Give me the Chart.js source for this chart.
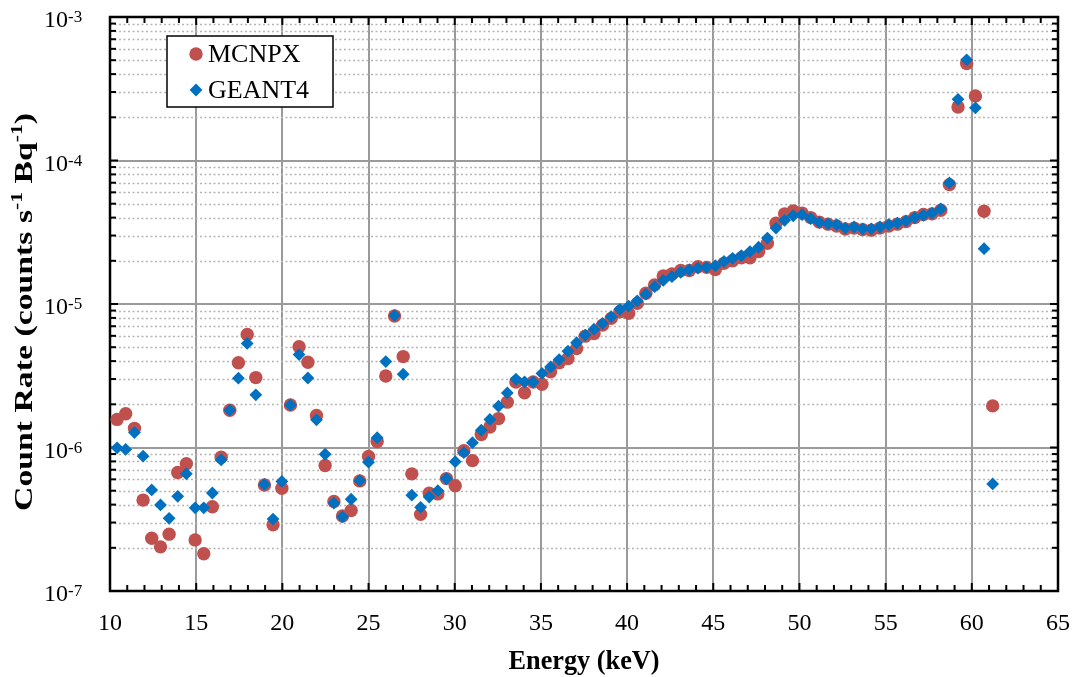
<!DOCTYPE html>
<html>
<head>
<meta charset="utf-8">
<title>Count rate vs energy</title>
<script src="https://cdn.jsdelivr.net/npm/chart.js@4.4.0/dist/chart.umd.min.js"></script>
<style>
  body { margin: 0; background: #fff; }
  canvas { display: block; }
</style>
</head>
<body>
<canvas id="chart" width="1075" height="677"></canvas>
<script>
// Energy of each channel (keV)
const energies = [
  10.41, 10.91, 11.42, 11.92, 12.42, 12.93, 13.43, 13.93, 14.43, 14.94,
  15.44, 15.94, 16.45, 16.95, 17.45, 17.96, 18.46, 18.96, 19.46, 19.97,
  20.47, 20.97, 21.48, 21.98, 22.48, 22.99, 23.49, 23.99, 24.49, 25.00,
  25.50, 26.00, 26.51, 27.01, 27.51, 28.02, 28.52, 29.02, 29.52, 30.03,
  30.53, 31.03, 31.54, 32.04, 32.54, 33.05, 33.55, 34.05, 34.55, 35.06,
  35.56, 36.06, 36.57, 37.07, 37.57, 38.08, 38.58, 39.08, 39.58, 40.09,
  40.59, 41.09, 41.60, 42.10, 42.60, 43.11, 43.61, 44.11, 44.61, 45.12,
  45.62, 46.12, 46.63, 47.13, 47.63, 48.14, 48.64, 49.14, 49.64, 50.15,
  50.65, 51.15, 51.66, 52.16, 52.66, 53.17, 53.67, 54.17, 54.67, 55.18,
  55.68, 56.18, 56.69, 57.19, 57.69, 58.20, 58.70, 59.20, 59.70, 60.21,
  60.71, 61.21
];

// Count rate (counts s-1 Bq-1)
const mcnpx = [
  1.57e-6, 1.72e-6, 1.36e-6, 4.3e-7, 2.33e-7, 2.03e-7, 2.49e-7, 6.7e-7, 7.7e-7, 2.27e-7,
  1.82e-7, 3.86e-7, 8.55e-7, 1.82e-6, 3.9e-6, 6.14e-6, 3.07e-6, 5.48e-7, 2.89e-7, 5.2e-7,
  1.98e-6, 5.04e-6, 3.93e-6, 1.67e-6, 7.5e-7, 4.2e-7, 3.33e-7, 3.64e-7, 5.85e-7, 8.65e-7,
  1.1e-6, 3.15e-6, 8.24e-6, 4.3e-6, 6.55e-7, 3.42e-7, 4.8e-7, 4.75e-7, 6.07e-7, 5.42e-7,
  9.5e-7, 8.1e-7, 1.23e-6, 1.39e-6, 1.59e-6, 2.07e-6, 2.86e-6, 2.41e-6, 2.86e-6, 2.76e-6,
  3.37e-6, 3.89e-6, 4.17e-6, 4.9e-6, 5.97e-6, 6.23e-6, 7.13e-6, 7.94e-6, 8.84e-6, 8.61e-6,
  1.01e-5, 1.19e-5, 1.36e-5, 1.57e-5, 1.62e-5, 1.71e-5, 1.71e-5, 1.82e-5, 1.8e-5, 1.74e-5,
  1.92e-5, 2.0e-5, 2.1e-5, 2.1e-5, 2.32e-5, 2.65e-5, 3.65e-5, 4.25e-5, 4.45e-5, 4.3e-5,
  4.0e-5, 3.72e-5, 3.6e-5, 3.5e-5, 3.33e-5, 3.38e-5, 3.3e-5, 3.27e-5, 3.38e-5, 3.5e-5,
  3.6e-5, 3.75e-5, 4.0e-5, 4.2e-5, 4.25e-5, 4.5e-5, 6.79e-5, 2.36e-4, 4.74e-4, 2.82e-4,
  4.43e-5, 1.95e-6
];

const geant4 = [
  9.95e-7, 9.7e-7, 1.27e-6, 8.7e-7, 5.06e-7, 3.98e-7, 3.21e-7, 4.57e-7, 6.55e-7, 3.8e-7,
  3.8e-7, 4.82e-7, 8.2e-7, 1.82e-6, 3.04e-6, 5.31e-6, 2.33e-6, 5.53e-7, 3.17e-7, 5.8e-7,
  1.98e-6, 4.44e-6, 3.05e-6, 1.56e-6, 8.97e-7, 4.1e-7, 3.29e-7, 4.36e-7, 5.87e-7, 7.9e-7,
  1.17e-6, 3.97e-6, 8.33e-6, 3.24e-6, 4.65e-7, 3.83e-7, 4.52e-7, 5.0e-7, 6.07e-7, 7.97e-7,
  9.2e-7, 1.08e-6, 1.32e-6, 1.57e-6, 1.94e-6, 2.4e-6, 2.99e-6, 2.86e-6, 2.86e-6, 3.28e-6,
  3.64e-6, 4.1e-6, 4.69e-6, 5.37e-6, 6.07e-6, 6.68e-6, 7.32e-6, 8.15e-6, 9.18e-6, 9.68e-6,
  1.05e-5, 1.17e-5, 1.32e-5, 1.46e-5, 1.55e-5, 1.66e-5, 1.73e-5, 1.78e-5, 1.8e-5, 1.85e-5,
  1.98e-5, 2.08e-5, 2.17e-5, 2.32e-5, 2.49e-5, 2.88e-5, 3.38e-5, 3.83e-5, 4.12e-5, 4.19e-5,
  3.93e-5, 3.7e-5, 3.62e-5, 3.57e-5, 3.38e-5, 3.44e-5, 3.34e-5, 3.34e-5, 3.44e-5, 3.57e-5,
  3.66e-5, 3.8e-5, 4.0e-5, 4.15e-5, 4.3e-5, 4.6e-5, 6.98e-5, 2.67e-4, 5.03e-4, 2.33e-4,
  2.43e-5, 5.57e-7
];

const yDecades = [1e-7, 1e-6, 1e-5, 1e-4, 1e-3];
const yExponents = ['-7', '-6', '-5', '-4', '-3'];
const xMin = 10;
const xMax = 65;

const serif = "'Liberation Serif', 'Times New Roman', serif";
const red = '#C0504D';
const blue = '#0070C0';
const gridGray = '#9a9a9a';

function toPoints(ys) {
  return energies.map((e, i) => ({ x: e, y: ys[i] }));
}

function strokeLine(ctx, x1, y1, x2, y2) {
  ctx.beginPath();
  ctx.moveTo(x1, y1);
  ctx.lineTo(x2, y2);
  ctx.stroke();
}

function drawMarker(ctx, style, r, x, y) {
  ctx.beginPath();
  if (style === 'rectRot') {
    ctx.moveTo(x - r, y);
    ctx.lineTo(x, y - r);
    ctx.lineTo(x + r, y);
    ctx.lineTo(x, y + r);
    ctx.closePath();
  } else {
    ctx.arc(x, y, r, 0, Math.PI * 2);
  }
  ctx.fill();
}

// text made of pieces, some raised as superscripts
function drawPieces(ctx, pieces, x, y, scaleX) {
  let total = 0;
  pieces.forEach(p => {
    ctx.font = p.font;
    p.w = ctx.measureText(p.text).width;
    total += p.w;
  });
  ctx.save();
  ctx.translate(x, y);
  ctx.scale(scaleX ? scaleX / total : 1, 1);
  let cx = -total / 2;
  pieces.forEach(p => {
    ctx.font = p.font;
    ctx.fillText(p.text, cx, p.rise || 0);
    cx += p.w;
  });
  ctx.restore();
}

// minor grid, frame, inside ticks, custom labels and legend
const decor = {
  id: 'decor',
  beforeDatasetsDraw(chart) {
    const { ctx, chartArea: a, scales: { x, y } } = chart;
    ctx.save();
    ctx.strokeStyle = '#b5b5b5';
    ctx.lineWidth = 1.5;
    ctx.setLineDash([2, 2.5]);
    yDecades.slice(0, -1).forEach(d => {
      for (let m = 2; m <= 9; m++) {
        const py = Math.round(y.getPixelForValue(d * m)) + 0.5;
        strokeLine(ctx, a.left, py, a.right, py);
      }
    });
    ctx.setLineDash([]);

    ctx.strokeStyle = '#000';
    ctx.lineWidth = 2;
    for (let v = xMin; v <= xMax; v++) {
      const px = x.getPixelForValue(v);
      const len = v % 5 === 0 ? 8 : 6;
      strokeLine(ctx, px, a.bottom, px, a.bottom - len);
      strokeLine(ctx, px, a.top, px, a.top + len);
    }
    yDecades.forEach((d, i) => {
      for (let m = 1; m <= 9; m++) {
        if (i === yDecades.length - 1 && m > 1) break;
        const py = y.getPixelForValue(d * m);
        const len = m === 1 ? 8 : 6;
        strokeLine(ctx, a.left, py, a.left + len, py);
        strokeLine(ctx, a.right, py, a.right - len, py);
      }
    });
    ctx.lineWidth = 2.5;
    ctx.strokeRect(a.left, a.top, a.right - a.left, a.bottom - a.top);
    ctx.restore();
  },
  afterDraw(chart) {
    const { ctx, chartArea: a, scales: { y } } = chart;
    ctx.save();
    ctx.fillStyle = '#000';
    ctx.textBaseline = 'alphabetic';

    // y tick labels 10^n
    yDecades.forEach((d, i) => {
      const py = y.getPixelForValue(d);
      ctx.textAlign = 'right';
      ctx.font = '24px ' + serif;
      ctx.fillText('10', 68, py + 10);
      ctx.textAlign = 'left';
      ctx.font = '17px ' + serif;
      ctx.fillText(yExponents[i], 68, py + 5);
    });

    // y axis title, rotated
    ctx.save();
    ctx.translate(32, (a.top + a.bottom) / 2 + 8);
    ctx.rotate(-Math.PI / 2);
    const bold = 'bold 25px ' + serif;
    const boldSup = 'bold 16px ' + serif;
    drawPieces(ctx, [
      { text: 'Count Rate (counts s', font: bold },
      { text: '-1', font: boldSup, rise: -10 },
      { text: ' Bq', font: bold },
      { text: '-1', font: boldSup, rise: -10 },
      { text: ')', font: bold }
    ], 0, 0, 398);
    ctx.restore();

    // x axis title
    ctx.textAlign = 'left';
    drawPieces(ctx, [{ text: 'Energy (keV)', font: 'bold 27px ' + serif }],
      (a.left + a.right) / 2, 669, 151);

    // legend box
    ctx.fillStyle = '#fff';
    ctx.fillRect(167, 36, 166, 71);
    ctx.strokeStyle = '#000';
    ctx.lineWidth = 1.5;
    ctx.strokeRect(167, 36, 166, 71);
    ctx.textAlign = 'left';
    ctx.textBaseline = 'middle';
    ctx.font = '26px ' + serif;
    chart.data.datasets.forEach((ds, i) => {
      const cy = 54 + i * 36;
      ctx.fillStyle = ds.backgroundColor;
      drawMarker(ctx, ds.pointStyle, ds.pointRadius, 196, cy);
      ctx.fillStyle = '#000';
      ctx.fillText(ds.label, 208, cy + 1);
    });
    ctx.restore();
  }
};

new Chart(document.getElementById('chart'), {
  type: 'scatter',
  data: {
    datasets: [
      {
        label: 'MCNPX',
        data: toPoints(mcnpx),
        pointStyle: 'circle',
        pointRadius: 6.7,
        pointBorderWidth: 0,
        backgroundColor: red,
        borderColor: red,
        order: 1
      },
      {
        label: 'GEANT4',
        data: toPoints(geant4),
        pointStyle: 'rectRot',
        pointRadius: 6.4,
        pointBorderWidth: 0,
        backgroundColor: blue,
        borderColor: blue,
        order: 0
      }
    ]
  },
  options: {
    responsive: false,
    animation: false,
    layout: { padding: { top: 17, right: 17, left: 0, bottom: 0 } },
    plugins: {
      legend: { display: false },
      tooltip: { enabled: false }
    },
    scales: {
      x: {
        type: 'linear',
        min: xMin,
        max: xMax,
        border: { display: false },
        grid: { color: gridGray, lineWidth: 2, drawTicks: false },
        ticks: {
          stepSize: 5,
          color: '#000',
          padding: 18,
          font: { family: serif, size: 24 }
        },
        afterFit: s => {
          s.height = 86;
          s.paddingLeft = 0;
          s.paddingRight = 0;
        }
      },
      y: {
        type: 'logarithmic',
        min: 1e-7,
        max: 1e-3,
        border: { display: false },
        grid: { color: gridGray, lineWidth: 2, drawTicks: false },
        ticks: { display: false },
        afterBuildTicks: s => { s.ticks = yDecades.map(v => ({ value: v })); },
        afterFit: s => { s.width = 110; }
      }
    }
  },
  plugins: [decor]
});
</script>
</body>
</html>
